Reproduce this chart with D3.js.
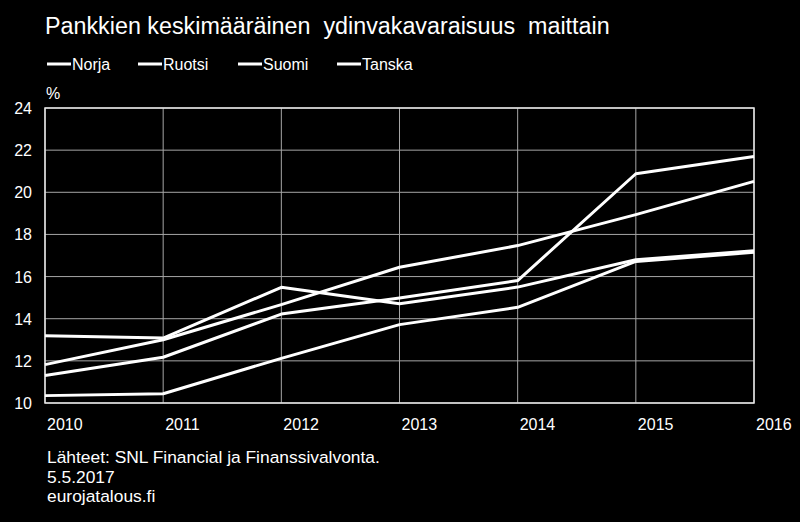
<!DOCTYPE html>
<html>
<head>
<meta charset="utf-8">
<script src="https://cdn.jsdelivr.net/npm/d3@7"></script>
<style>
  html, body { margin: 0; padding: 0; background: #000; }
  svg { display: block; font-family: "Liberation Sans", Arial, sans-serif; }
  .grid line { stroke: #a6a6a6; stroke-width: 1; }
  .tick-label { fill: #fff; font-size: 16px; }
</style>
</head>
<body>
<div id="chart"></div>
<script>
// Data
const years = [2010, 2011, 2012, 2013, 2014, 2015, 2016];
const countries = ["Norja", "Ruotsi", "Suomi", "Tanska"];
const norja  = [10.35, 10.44, 12.12, 13.72, 14.54, 16.72, 17.15];
const ruotsi = [11.31, 12.17, 14.22, 14.98, 15.81, 20.88, 21.70];
const suomi  = [11.82, 13.00, 14.67, 16.44, 17.47, 18.94, 20.52];
const tanska = [13.19, 13.08, 15.49, 14.71, 15.50, 16.80, 17.22];
const yTicks = [10, 12, 14, 16, 18, 20, 22, 24];
const title = "Pankkien keskimääräinen  ydinvakavaraisuus  maittain";
const sourceLines = ["Lähteet: SNL Financial ja Finanssivalvonta.", "5.5.2017", "eurojatalous.fi"];

const width = 800, height = 522;
const margin = { left: 45, right: 46, top: 108, bottom: 119 };

const svg = d3.select("#chart")
  .append("svg")
    .attr("width", width)
    .attr("height", height);

svg.append("rect")
  .attr("width", width)
  .attr("height", height)
  .attr("fill", "#000");

// Scales
const x = d3.scaleLinear()
  .domain([years[0], years[years.length - 1]])
  .range([margin.left, width - margin.right]);
const y = d3.scaleLinear()
  .domain([10, 24])
  .range([height - margin.bottom, margin.top]);

// Title
svg.append("text")
  .attr("x", 45)
  .attr("y", 34)
  .attr("fill", "#fff")
  .attr("font-size", 23.3)
  .style("white-space", "pre")
  .text(title);

// Legend
const legendX = [47, 138, 238, 337];
const legend = svg.append("g")
  .selectAll("g")
  .data(countries)
  .enter()
  .append("g")
    .attr("transform", (d, i) => `translate(${legendX[i]},64)`);
legend.append("line")
  .attr("x1", 0).attr("x2", 24)
  .attr("stroke", "#fff")
  .attr("stroke-width", 3);
legend.append("text")
  .attr("x", 25)
  .attr("y", 6)
  .attr("fill", "#fff")
  .attr("font-size", 16)
  .text(d => d);

// Grid
const grid = svg.append("g").attr("class", "grid");
grid.selectAll("line.h")
  .data(yTicks)
  .enter()
  .append("line")
    .attr("class", "h")
    .attr("x1", x.range()[0]).attr("x2", x.range()[1])
    .attr("y1", d => y(d)).attr("y2", d => y(d));
grid.selectAll("line.v")
  .data(years)
  .enter()
  .append("line")
    .attr("class", "v")
    .attr("x1", d => x(d)).attr("x2", d => x(d))
    .attr("y1", y.range()[0]).attr("y2", y.range()[1]);

// Frame
svg.append("rect")
  .attr("x", x.range()[0])
  .attr("y", y.range()[1])
  .attr("width", x.range()[1] - x.range()[0])
  .attr("height", y.range()[0] - y.range()[1])
  .attr("fill", "none")
  .attr("stroke", "#e6e6e6")
  .attr("stroke-width", 1.5);

// Axis labels
svg.append("g")
  .selectAll("text")
  .data(yTicks)
  .enter()
  .append("text")
    .attr("class", "tick-label")
    .attr("x", 32)
    .attr("y", d => y(d) + 6)
    .attr("text-anchor", "end")
    .text(d => d);

svg.append("g")
  .selectAll("text")
  .data(years)
  .enter()
  .append("text")
    .attr("class", "tick-label")
    .attr("x", d => x(d) + 2)
    .attr("y", 430)
    .text(d => d);

svg.append("text")
  .attr("class", "tick-label")
  .attr("x", 46)
  .attr("y", 99)
  .text("%");

// Lines
const series = [norja, ruotsi, suomi, tanska];
const line = d3.line()
  .x((d, i) => x(years[i]))
  .y(d => y(d));
svg.append("g")
  .selectAll("path")
  .data(series)
  .enter()
  .append("path")
    .attr("d", line)
    .attr("fill", "none")
    .attr("stroke", "#fff")
    .attr("stroke-width", 3)
    .attr("stroke-linejoin", "round");

// Source
svg.append("g")
  .selectAll("text")
  .data(sourceLines)
  .enter()
  .append("text")
    .attr("class", "tick-label")
    .style("font-size", "17.4px")
    .attr("x", 47)
    .attr("y", (d, i) => 463 + i * 19.5)
    .text(d => d);
</script>
</body>
</html>
